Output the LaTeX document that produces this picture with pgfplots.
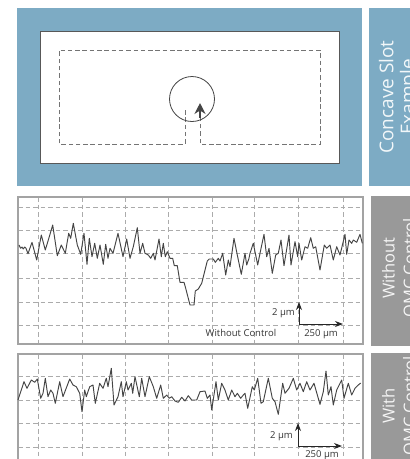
\documentclass[border=0pt]{standalone}
\usepackage{fontspec}
\setmainfont{Open Sans}
\usepackage{pgfplots}
\pgfplotsset{compat=1.18}
\usetikzlibrary{arrows.meta}
\definecolor{panelblue}{HTML}{7DABC4}
\definecolor{panelgray}{HTML}{999999}
\definecolor{framegray}{HTML}{A3A3A3}
\definecolor{griddash}{HTML}{ABABAB}
\definecolor{ink}{HTML}{454545}

% all coordinates are reference pixels, y running downwards
\tikzset{small label/.style={inner sep=0pt,text=black!80,font=\fontsize{9.5}{11}\selectfont}}
\pgfplotsset{
  px/.style={scale only axis,y dir=reverse,clip=false},
  profile/.style={px,xmin=18,xmax=363,width=345pt,
    xtick={38,82,125,168,212,254,298,343},
    xticklabels={},yticklabels={},major tick length=0pt,
    grid=major,
    major grid style={griddash,line width=1pt,dash pattern=on 4.5pt off 3pt},
    axis line style={framegray,line width=1.7pt}},
  trace/.style={ink,line width=0.95pt,line join=round,no markers},
  scalebar/.style={black!85,line width=1pt,-{Stealth[length=8pt,width=6pt]},no markers},
  slotpath/.style={ink!75,line width=0.85pt,dash pattern=on 4.5pt off 2.8pt,no markers},
}

\pgfplotstableread{
x y
19 245
20.7 248.3
22 247
23.3 249
24.7 247
26 248.3
28 253.7
32 242.3
36.7 260
41.3 235
45.3 250
49.3 236.7
52.7 225
57.3 255.7
61.3 245
65.3 253.3
68.7 233.3
70.7 238.3
73.3 223.3
77.3 245
80.7 254.3
84 233.3
87 264.3
89.3 238.3
92 256.7
94.7 243.3
97.3 258.3
100 245
103.3 264.3
105.7 244.3
108 258.3
110 248.3
113 253.3
118 233.3
123 256.7
126.7 239
130 258.3
133.3 246.7
137.3 227.7
140 253.3
142.7 243.3
145 253.3
148.3 255
150.7 258.3
153.3 253.3
155 260
159 239
161.3 256.7
163.3 243.3
165.3 256.7
167.3 251.7
170 258.3
172.7 258.3
174.3 265.7
177.3 265.7
180 282.3
184 282.3
185.7 288.3
190 305
194 305
195.3 291
198.3 289
201.7 283.3
207.3 261
209.3 259
213.3 259
215.3 262.3
218.3 258.3
220 261
222.7 253.3
225.7 275
228.3 260
230 266.7
234 238.3
237.3 255
241.3 274.3
245 253.3
246.7 265
249 258.3
250 253.3
253.3 243.3
257.7 265
260 253.3
264 234.3
266.7 256.7
269 248.3
272.3 273.3
275.7 255
278.3 253.3
281 240
284 265.7
289 235
291 265
295 241.7
297.7 256.7
299 243.3
301.7 260
305 246.7
307.7 248.3
310.7 237.7
313.3 248.3
315.7 246.7
320 270
324.3 245
326.7 248.3
330 245
333.3 260
336.7 246.7
340 255
345 234.3
346.7 254.3
349 240
351.7 243.3
353.3 240
356.7 242.3
360 234.3
362.3 243.3
}\withoutcontrol

\pgfplotstableread{
x y
18 400
24 381.7
27 388.3
31.3 380
34.7 382.3
37.3 379
40.7 398.3
43 393.3
45.3 378.3
48 396.7
50.7 390
53 393.3
55.3 403.3
59.7 381.7
63 396.7
69.7 379
73 385
76.3 386.7
79.7 393.3
82 411.7
84.7 390
86.3 396.7
89.7 386.7
93 385
95.3 403.3
99.7 383.3
103 388.3
106.3 378.3
108 386.7
111.3 368.3
114 405
118 396.7
121.3 381.7
123 396.7
126.3 381.7
128 390
131.3 383.3
132.7 393.3
135 376.7
139.3 396.7
141.7 378.3
145 396.7
149.3 376.7
153.3 386.7
156.7 398.3
160.7 385
163.3 398.3
166.7 395
169.3 398.3
171.7 396.7
175 401
178.3 402.3
181.7 397.3
185 401
188.3 395.7
191.7 400
196.7 400
200 391.7
205 391
207.3 398.3
210 395
211.7 410
216 381.7
218.3 400
221.7 383.3
225 390
228.3 400
231.7 390
235 396.7
237.3 393.3
240.7 398.3
243.3 395
245 393.3
247.7 408.3
252.3 386.7
254.3 390
257.7 378.3
261 403.3
263.3 401.7
268.3 378.3
272.3 398.3
275 401.7
278.3 414.3
282.7 383.3
285 393.3
289 388.3
293.3 378.3
296.7 390
300 383.3
303.3 391.7
306.7 381.7
310 390
314 383.3
320 404.3
323.3 391.7
326 371
328.3 395
331 386.7
333.3 405
336.7 390
341.7 380
344 398.3
348.3 383.3
351.7 395
355 388.3
358.3 385
360.7 383
}\withcontrol

\begin{document}
\begin{tikzpicture}
\useasboundingbox (0,0) rectangle (410pt,-459pt);
\clip (0,0) rectangle (410pt,-459pt);

% schematic and side panels
\begin{axis}[px,hide axis,at={(0,0)},anchor=north west,
  width=410pt,height=459pt,xmin=0,xmax=410,ymin=0,ymax=459]
\addplot[fill=panelblue,draw=none] coordinates {(17,8) (362,8) (362,186) (17,186)} --cycle;
\addplot[fill=panelblue,draw=none] coordinates {(369,8) (412,8) (412,186) (369,186)} --cycle;
\addplot[fill=panelgray,draw=none] coordinates {(371,196) (412,196) (412,346) (371,346)} --cycle;
\addplot[fill=panelgray,draw=none] coordinates {(371,353) (412,353) (412,461) (371,461)} --cycle;
\addplot[fill=white,draw=ink!90,line width=0.9pt] coordinates {(40,31) (339,31) (339,163) (40,163)} --cycle;
\addplot[slotpath] coordinates {(185,110) (185,144) (59,144) (59,50) (320,50) (320,144) (200,144) (200,116)};
\addplot[ink,line width=1.3pt,-{Stealth[length=11pt,width=11pt]},no markers] coordinates {(200,118) (200,103)};
\draw[ink,line width=0.8pt] (axis cs:192,99) circle[radius=22.5pt];
\node[white!90!panelblue,rotate=90,align=center,font=\fontsize{19}{21}\selectfont] at (axis cs:399,97) {Concave Slot\\Example};
\node[white!90!panelgray,rotate=90,align=center,font=\fontsize{16.5}{21}\selectfont] at (axis cs:399,268) {Without\\OMC Control};
\node[white!90!panelgray,rotate=90,align=center,font=\fontsize{16.5}{21}\selectfont] at (axis cs:399,406) {With\\OMC Control};
\end{axis}

% profile without control
\begin{axis}[profile,at={(18pt,-197pt)},anchor=north west,
  height=147pt,ymin=197,ymax=344,ytick={207,230,253,278,302,325}]
\addplot[trace] table[x=x,y=y] {\withoutcontrol};
\addplot[scalebar] coordinates {(299,324) (299,302)};
\addplot[scalebar] coordinates {(299,324) (343,324)};
\node[small label,anchor=east] at (axis cs:295,313) {2 µm};
\node[small label] at (axis cs:321,334) {250 µm};
\node[small label] at (axis cs:241,333) {Without Control};
\end{axis}

% profile with control, runs past the bottom edge
\begin{axis}[profile,at={(18pt,-354pt)},anchor=north west,
  height=107pt,ymin=354,ymax=461,ytick={376,400,423,447}]
\addplot[trace] table[x=x,y=y] {\withcontrol};
\addplot[scalebar] coordinates {(298,446) (298,423)};
\addplot[scalebar] coordinates {(298,446) (342,446)};
\node[small label,anchor=east] at (axis cs:293,436) {2 µm};
\node[small label] at (axis cs:322,455) {250 µm};
\end{axis}
\end{tikzpicture}
\end{document}
